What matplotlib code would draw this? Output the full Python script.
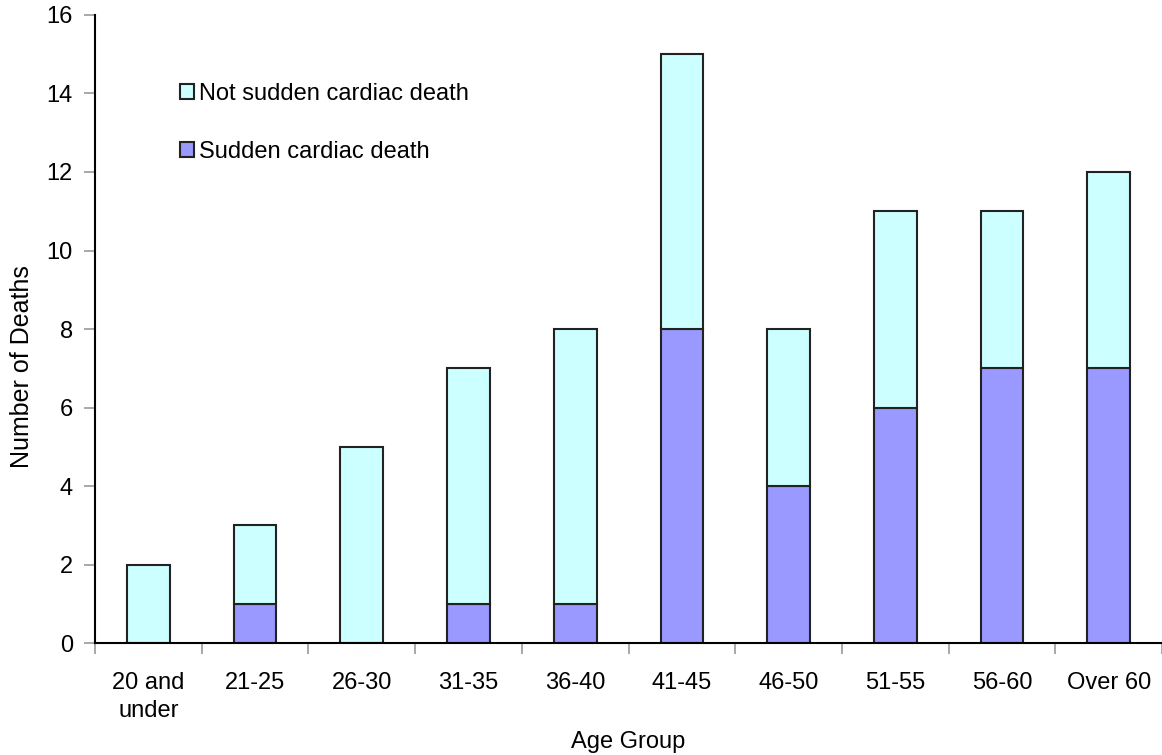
import matplotlib
matplotlib.use('Agg')
import matplotlib.pyplot as plt
import numpy as np

# Age groups and death counts
age_groups = ['20 and\nunder', '21-25', '26-30', '31-35', '36-40',
              '41-45', '46-50', '51-55', '56-60', 'Over 60']
sudden = [0, 1, 0, 1, 1, 8, 4, 6, 7, 7]
not_sudden = [2, 2, 5, 6, 7, 7, 4, 5, 4, 5]

plt.rcParams['font.family'] = ['Liberation Sans', 'DejaVu Sans']

fig = plt.figure(figsize=(11.62, 7.55), dpi=100)
ax = fig.add_axes([0.0818, 0.148, 0.9182, 0.8323])

x = np.arange(len(age_groups))
ax.bar(x, sudden, width=0.4, color='#9999FF', edgecolor='#222222',
       linewidth=1.5, label='Sudden cardiac death')
ax.bar(x, not_sudden, width=0.4, bottom=sudden, color='#CCFFFF',
       edgecolor='#222222', linewidth=1.5, label='Not sudden cardiac death')

ax.set_xlim(-0.5, len(age_groups) - 0.5)
ax.set_ylim(0, 16)
ax.set_yticks(range(0, 17, 2))

ax.set_xticks(x)
ax.set_xticklabels(age_groups, fontsize=17, linespacing=1.3)
ax.set_xticks(np.arange(-0.5, len(age_groups), 1), minor=True)
ax.tick_params(axis='x', which='major', length=0, pad=21)
ax.tick_params(axis='x', which='minor', length=8, color='#999999', width=1.2)
ax.tick_params(axis='y', labelsize=17, length=8, color='#999999', width=1.2, pad=8)

for s in ['top', 'right']:
    ax.spines[s].set_visible(False)
for s in ['left', 'bottom']:
    ax.spines[s].set_linewidth(1.5)
    ax.spines[s].set_color('black')

ax.set_xlabel('Age Group', fontsize=17, labelpad=7)
ax.set_ylabel('Number of Deaths', fontsize=18)
ax.yaxis.set_label_coords(-0.057, 0.44)

handles, labels = ax.get_legend_handles_labels()
ax.legend(handles[::-1], labels[::-1], loc='upper left',
          bbox_to_anchor=(0.06, 0.925), frameon=False, fontsize=17,
          handlelength=0.6, handleheight=0.6, handletextpad=0.2,
          labelspacing=1.5)

fig.savefig('out.png', dpi=100)
